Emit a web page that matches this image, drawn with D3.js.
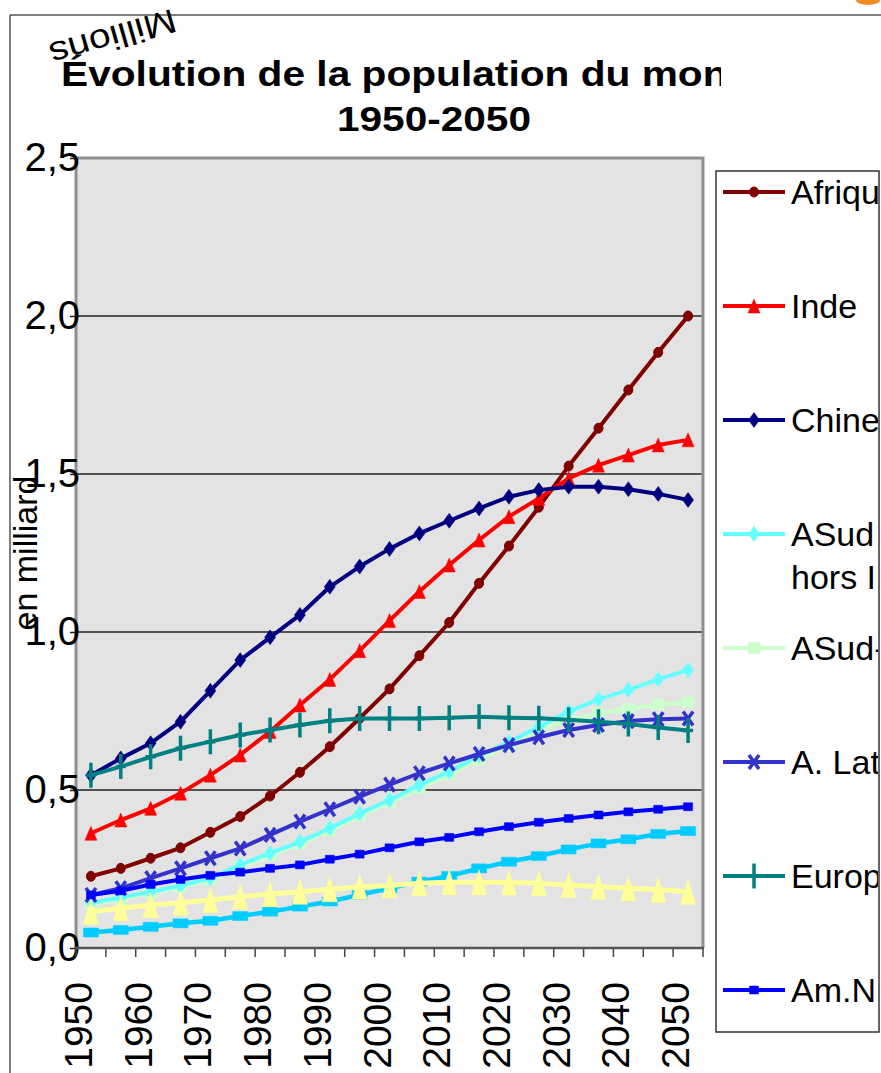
<!DOCTYPE html>
<html><head><meta charset="utf-8">
<script src="https://cdn.jsdelivr.net/npm/d3@7/dist/d3.min.js"></script>
<style>html,body{margin:0;padding:0;background:#fff;} svg{display:block;font-family:"Liberation Sans",Arial,sans-serif;}</style>
</head><body>
<svg id="c" width="881" height="1073"></svg>
<script>
// ---- data ----
const years = [1950,1955,1960,1965,1970,1975,1980,1985,1990,1995,2000,2005,2010,2015,2020,2025,2030,2035,2040,2045,2050];
const xTickLabels = ["1950","1960","1970","1980","1990","2000","2010","2020","2030","2040","2050"];
const yTickValues = [0,0.5,1,1.5,2,2.5];
const yTickLabels = ["0,0","0,5","1,0","1,5","2,0","2,5"];
const seriesNames = ["Afrique","Inde","Chine","ASud hors Inde","ASud-Est","A. Latine","Europe","Am.N","Série 9","Série 10"];
const afrique = [0.227,0.252,0.284,0.317,0.366,0.416,0.481,0.556,0.637,0.727,0.820,0.925,1.030,1.154,1.272,1.395,1.525,1.645,1.766,1.885,2.000];
const inde    = [0.363,0.405,0.442,0.490,0.547,0.611,0.685,0.769,0.850,0.941,1.036,1.128,1.212,1.291,1.365,1.423,1.486,1.528,1.560,1.592,1.608];
const chine   = [0.547,0.600,0.648,0.716,0.814,0.911,0.983,1.054,1.143,1.207,1.263,1.312,1.352,1.391,1.428,1.449,1.460,1.460,1.452,1.437,1.418];
const asudHorsInde = [0.143,0.160,0.178,0.197,0.221,0.263,0.300,0.336,0.379,0.426,0.468,0.516,0.558,0.609,0.652,0.700,0.748,0.787,0.817,0.850,0.880];
const asudEst = [0.138,0.155,0.173,0.192,0.216,0.257,0.294,0.330,0.372,0.418,0.460,0.505,0.548,0.596,0.640,0.690,0.720,0.742,0.757,0.770,0.777];
const aLatine = [0.168,0.189,0.221,0.252,0.284,0.315,0.358,0.400,0.439,0.479,0.517,0.553,0.584,0.614,0.642,0.667,0.690,0.706,0.718,0.724,0.726];
const europe  = [0.547,0.574,0.605,0.632,0.653,0.674,0.690,0.706,0.719,0.726,0.726,0.726,0.729,0.732,0.729,0.727,0.722,0.716,0.709,0.698,0.688];
const amNord  = [0.168,0.181,0.201,0.217,0.230,0.240,0.252,0.263,0.281,0.297,0.317,0.336,0.350,0.368,0.384,0.398,0.410,0.421,0.431,0.439,0.447];
const serie9  = [0.115,0.126,0.136,0.143,0.152,0.162,0.171,0.178,0.186,0.194,0.198,0.205,0.208,0.208,0.207,0.205,0.199,0.194,0.189,0.184,0.178];
const serie10 = [0.049,0.057,0.067,0.078,0.086,0.101,0.115,0.131,0.147,0.168,0.189,0.210,0.228,0.252,0.273,0.291,0.312,0.331,0.344,0.361,0.370];

// ---- config ----
const seriesCfg = [
  {name:seriesNames[0], values:afrique, color:"#800000", marker:"circle", mw:9, mh:10, lw:4, legend:0},
  {name:seriesNames[1], values:inde, color:"#FF0000", marker:"triangle", mw:12, mh:14, lw:4, legend:1},
  {name:seriesNames[2], values:chine, color:"#000080", marker:"diamond", mw:11, mh:15, lw:4, legend:2},
  {name:seriesNames[3], values:asudHorsInde, color:"#66FFFF", marker:"diamond", mw:11, mh:15, lw:4, legend:3},
  {name:seriesNames[4], values:asudEst, color:"#CCFFCC", marker:"square", mw:12, mh:11, lw:4, legend:4},
  {name:seriesNames[5], values:aLatine, color:"#3333CC", marker:"x", mw:10, mh:14, lw:4, legend:5},
  {name:seriesNames[6], values:europe, color:"#008080", marker:"plus", mw:10, mh:25, lw:4, legend:6},
  {name:seriesNames[7], values:amNord, color:"#0000FF", marker:"square", mw:9, mh:8, lw:4, legend:7},
  {name:seriesNames[8], values:serie9, color:"#FFFF99", marker:"triangle", mw:15, mh:25, lw:5, legend:-1},
  {name:seriesNames[9], values:serie10, color:"#00CCFF", marker:"square", mw:15, mh:9, lw:4.5, legend:-1}
];
const drawOrder = [4,0,1,2,3,5,6,7,9,8];

const svg = d3.select("#c");
const W = 881, H = 1073;
const plot = {l:76, r:703, t:158, b:948};

svg.append("rect").attr("width",W).attr("height",H).attr("fill","#fff");

// outer frame lines
svg.append("line").attr("x1",10).attr("x2",W).attr("y1",15).attr("y2",15).attr("stroke","#555").attr("stroke-width",1.5);
svg.append("line").attr("x1",10).attr("x2",10).attr("y1",15).attr("y2",H).attr("stroke","#555").attr("stroke-width",1.5);
svg.append("ellipse").attr("cx",868).attr("cy",0).attr("rx",12).attr("ry",5).attr("fill","#F08A24");

const defs = svg.append("defs");
defs.append("clipPath").attr("id","titleClip").append("rect").attr("x",0).attr("y",0).attr("width",721).attr("height",150);
defs.append("clipPath").attr("id","legClip").append("rect").attr("x",716).attr("y",171).attr("width",162).attr("height",861);

// scales
const x = d3.scaleBand().domain(years).range([plot.l, plot.r]).padding(0);
const bw = x.bandwidth();
const cx = yr => x(yr) + bw/2;
const y = d3.scaleLinear().domain([0,2.5]).range([plot.b, plot.t]);

// plot area
svg.append("rect").attr("x",plot.l).attr("y",plot.t).attr("width",plot.r-plot.l).attr("height",plot.b-plot.t).attr("fill","#E3E3E3");

// gridlines
svg.append("g").selectAll("line").data(yTickValues.filter(v=>v>0 && v<2.5)).join("line")
  .attr("x1",plot.l).attr("x2",plot.r).attr("y1",d=>y(d)).attr("y2",d=>y(d))
  .attr("stroke","#222").attr("stroke-width",1.5);

// plot borders
svg.append("path").attr("d",`M${plot.l},${plot.b}V${plot.t}H${plot.r}V${plot.b}`).attr("fill","none").attr("stroke","#8f8f8f").attr("stroke-width",3);

// y axis
const yAxis = d3.axisLeft(y).tickValues(yTickValues).tickSize(6).tickPadding(-10)
  .tickFormat((d,i)=>yTickLabels[i]);
const gy = svg.append("g").attr("transform",`translate(${plot.l},0)`).call(yAxis);
gy.select(".domain").remove();
gy.selectAll(".tick line").attr("stroke","#222").attr("stroke-width",1.5);
gy.selectAll(".tick text").attr("fill","#000").style("font-size","40px").style("font-family","'Liberation Sans',Arial,sans-serif");

// x axis boundary ticks
const bounds = years.map(yr=>x(yr)).concat([plot.r]);
svg.append("g").selectAll("line").data(bounds).join("line")
  .attr("x1",d=>d).attr("x2",d=>d).attr("y1",plot.b).attr("y2",plot.b+9)
  .attr("stroke","#444").attr("stroke-width",1.5);
svg.append("line").attr("x1",plot.l-1).attr("x2",plot.r+1).attr("y1",plot.b).attr("y2",plot.b).attr("stroke","#555").attr("stroke-width",2.5);

// x labels
const labelYears = years.filter((yr,i)=>i%2===0);
const xAxis = d3.axisBottom(x).tickValues(labelYears).tickSize(0).tickFormat((d,i)=>xTickLabels[i]);
const gx = svg.append("g").attr("transform",`translate(0,${plot.b})`).call(xAxis);
gx.select(".domain").remove();
gx.selectAll(".tick text").attr("transform","rotate(-90)").attr("x",-34).attr("y",1).attr("dy",0)
  .style("text-anchor","end").attr("fill","#000").style("font-size","39px").style("font-family","'Liberation Sans',Arial,sans-serif");

// marker path
function markerPath(type,w,h){
  const a=w/2,b=h/2;
  switch(type){
    case "circle": return `M${-a},0A${a},${b} 0 1,0 ${a},0A${a},${b} 0 1,0 ${-a},0Z`;
    case "triangle": return `M0,${-b}L${a},${b}L${-a},${b}Z`;
    case "diamond": return `M0,${-b}L${a},0L0,${b}L${-a},0Z`;
    case "square": return `M${-a},${-b}H${a}V${b}H${-a}Z`;
    case "x": return `M${-a},${-b}L${a},${b}M${a},${-b}L${-a},${b}`;
    case "plus": return `M0,${-b}V${b}M${-a},0H${a}`;
  }
}
function drawMarker(g,s){
  const stroked = (s.marker==="x"||s.marker==="plus");
  return g.append("path").attr("d",markerPath(s.marker,s.mw,s.mh))
    .attr("fill",stroked?"none":s.color).attr("stroke",s.color).attr("stroke-width",stroked?3.5:(s.marker==="circle"?1:0.5));
}

// series
const line = d3.line().x((d,i)=>cx(years[i])).y(d=>y(d));
const gs = svg.append("g");
drawOrder.forEach(k=>{
  const s = seriesCfg[k];
  const g = gs.append("g");
  g.append("path").attr("d",line(s.values)).attr("fill","none").attr("stroke",s.color)
    .attr("stroke-width",s.lw).attr("stroke-linejoin","round");
  g.selectAll("g.m").data(s.values).join("g").attr("class","m")
    .attr("transform",(d,i)=>`translate(${cx(years[i])},${y(d)})`)
    .each(function(){ drawMarker(d3.select(this),s); });
});

// title
const tg = svg.append("g").attr("clip-path","url(#titleClip)");
tg.append("text").attr("x",61).attr("y",86).attr("font-weight","bold").style("font-size","35px")
  .attr("textLength",714).attr("lengthAdjust","spacingAndGlyphs").text("Évolution de la population du monde");
svg.append("text").attr("x",434).attr("y",131).attr("text-anchor","middle").attr("font-weight","bold").style("font-size","35px")
  .attr("textLength",194).attr("lengthAdjust","spacingAndGlyphs").text("1950-2050");

// Millions (upside down)
svg.append("text").attr("transform","translate(113,38) rotate(164)").attr("text-anchor","middle")
  .attr("dominant-baseline","central").style("font-size","34px")
  .attr("textLength",130).attr("lengthAdjust","spacingAndGlyphs").text("Millions");

// y title
svg.append("text").attr("transform","translate(25,553) rotate(-90)").attr("text-anchor","middle")
  .attr("dominant-baseline","central").style("font-size","34px").text("en milliard");

// legend
svg.append("rect").attr("x",716).attr("y",171).attr("width",163).attr("height",861).attr("fill","#fff").attr("stroke","#333").attr("stroke-width",1.5);
const lg = svg.append("g").attr("clip-path","url(#legClip)");
const legendItems = seriesCfg.filter(s=>s.legend>=0).sort((a,b)=>a.legend-b.legend);
const legY = d3.scaleLinear().domain([0,1]).range([192,306]);
legendItems.forEach((s,k)=>{
  const yy = legY(k);
  const g = lg.append("g").attr("transform",`translate(0,${yy})`);
  g.append("line").attr("x1",723).attr("x2",785).attr("y1",0).attr("y2",0).attr("stroke",s.color).attr("stroke-width",s.lw);
  drawMarker(g.append("g").attr("transform","translate(754,0)"),s);
  const lines = s.name==="ASud hors Inde" ? ["ASud","hors Inde"] : [s.name];
  lines.forEach((t,j)=>{
    g.append("text").attr("x",791).attr("y",12+j*43).style("font-size","34px").attr("fill","#000").text(t);
  });
});
</script>
</body></html>
